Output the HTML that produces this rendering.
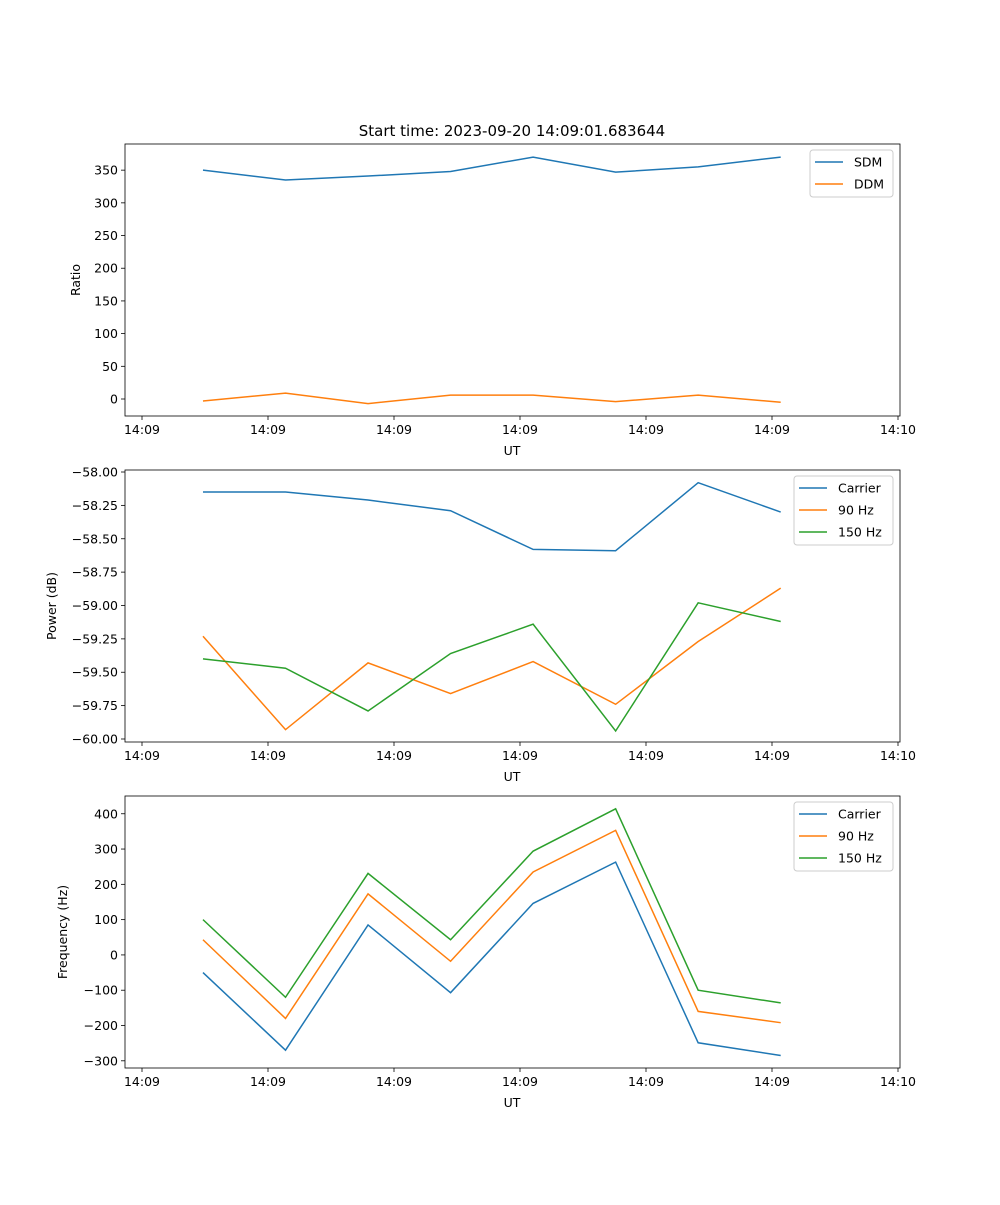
<!DOCTYPE html>
<html><head><meta charset="utf-8"><style>
body{margin:0;background:#fff}
svg text{font-family:"DejaVu Sans","Liberation Sans",sans-serif;font-size:12.5px;fill:#000}
</style></head><body>
<svg id="fig" width="1000" height="1200" xmlns="http://www.w3.org/2000/svg">
<rect width="1000" height="1200" fill="#fff"/>
<text x="512" y="136" text-anchor="middle" style="font-size:15px">Start time: 2023-09-20 14:09:01.683644</text>
</svg>
<script>
const times = [0.484, 1.139, 1.794, 2.449, 3.104, 3.759, 4.414, 5.069];
const xTickLabels = ["14:09","14:09","14:09","14:09","14:09","14:09","14:10"];
const sdm = [350, 335, 341, 348, 370, 347, 355, 370];
const ddm = [-3, 9, -7, 6, 6, -4, 6, -5];
const powCarrier = [-58.15, -58.15, -58.21, -58.29, -58.58, -58.59, -58.08, -58.30];
const pow90 = [-59.23, -59.93, -59.43, -59.66, -59.42, -59.74, -59.27, -58.87];
const pow150 = [-59.40, -59.47, -59.79, -59.36, -59.14, -59.94, -58.98, -59.12];
const freqCarrier = [-50, -270, 85, -107, 146, 263, -249, -285];
const freq90 = [43, -180, 173, -18, 235, 353, -160, -192];
const freq150 = [100, -120, 231, 43, 294, 414, -100, -136];
const ratioTicks = [0,50,100,150,200,250,300,350];
const powTicks = [-58.00,-58.25,-58.50,-58.75,-59.00,-59.25,-59.50,-59.75,-60.00];
const freqTicks = [-300,-200,-100,0,100,200,300,400];

const NS="http://www.w3.org/2000/svg";
const svg=document.getElementById('fig');
const C=['#1f77b4','#ff7f0e','#2ca02c'];
function el(t,a,p){const e=document.createElementNS(NS,t);for(const k in a)e.setAttribute(k,a[k]);(p||svg).appendChild(e);return e;}
const L=125,R=900;
const xs=t=>142+126*t;

function panel(name,top,bot,ymin,ymax,ticks,fmt,ylabel,series,names,legend){
  const g=el('g',{});
  
  
  const ys=v=>bot-(v-ymin)/(ymax-ymin)*(bot-top);
  xTickLabels.forEach((lab,i)=>{
    const x=xs(i);
    el('line',{x1:x,x2:x,y1:bot,y2:bot+4,stroke:'#000','stroke-width':0.8},g);
    const t=el('text',{x:x,y:bot+18,'text-anchor':'middle'},g);t.textContent=lab;
    
    
  });
  const xl=el('text',{x:512,y:bot+39,'text-anchor':'middle'},g);xl.textContent='UT';
  
  
  ticks.forEach(v=>{
    const y=ys(v);
    el('line',{x1:L-4,x2:L,y1:y,y2:y,stroke:'#000','stroke-width':0.8},g);
    const t=el('text',{x:L-7,y:y+4.5,'text-anchor':'end'},g);t.textContent=fmt(v);
    
    
  });
  const yl=el('text',{x:0,y:0,'text-anchor':'middle',transform:`translate(${ylabel[1]},${(top+bot)/2}) rotate(-90)`},g);yl.textContent=ylabel[0];
  
  
  series.forEach((s,k)=>{
    const p=el('polyline',{fill:'none',stroke:C[k],'stroke-width':1.5,points:s.map((v,i)=>xs(times[i])+','+ys(v)).join(' ')},g);
    
    
  });
  el('rect',{x:L,y:top,width:R-L,height:bot-top,fill:'none',stroke:'#000','stroke-width':0.8},g);
  const lg=el('g',{},g);
  
  
  el('rect',{x:legend[0],y:top+6,width:R-7-legend[0],height:names.length*22+3,fill:'#fff',stroke:'#ccc',rx:3},lg);
  names.forEach((n,k)=>{
    const y=top+6+12+k*22;
    el('line',{x1:legend[0]+5,x2:legend[0]+33,y1:y,y2:y,stroke:C[k],'stroke-width':1.5},lg);
    const t=el('text',{x:legend[0]+44,y:y+4.5},lg);t.textContent=n;
    
    
  });
}
panel('ratio',144,416,-26,390,ratioTicks,v=>String(v),['Ratio',80],[sdm,ddm],['SDM','DDM'],[810]);
panel('power',470,742,-60.0225,-57.985,powTicks,v=>(v<0?'\u2212':'')+Math.abs(v).toFixed(2),['Power (dB)',56],[powCarrier,pow90,pow150],['Carrier','90 Hz','150 Hz'],[794]);
panel('frequency',796,1068,-320.4,450.3,freqTicks,v=>(v<0?'\u2212':'')+Math.abs(v),['Frequency (Hz)',67],[freqCarrier,freq90,freq150],['Carrier','90 Hz','150 Hz'],[794]);
</script>
</body></html>
